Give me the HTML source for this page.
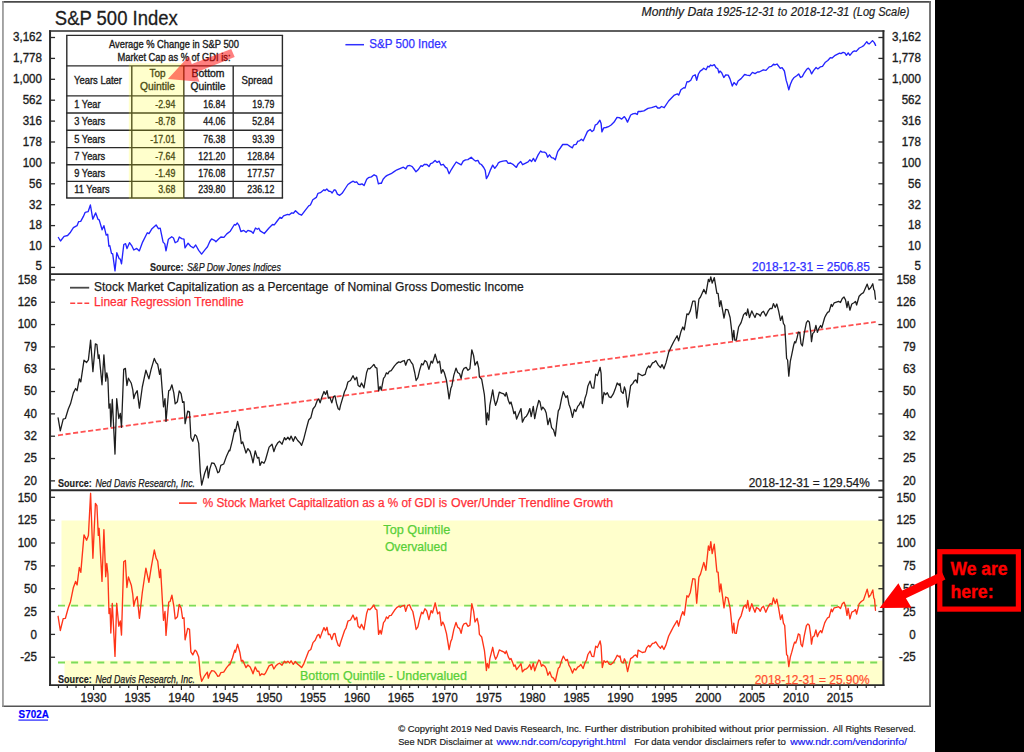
<!DOCTYPE html>
<html><head><meta charset="utf-8"><title>S&amp;P 500 Index</title>
<style>
html,body{margin:0;padding:0;background:#000;}
body{width:1024px;height:752px;overflow:hidden;font-family:"Liberation Sans", sans-serif;}
svg{display:block;}
text{white-space:pre;}
</style></head><body>
<svg width="1024" height="752" viewBox="0 0 1024 752" font-family='"Liberation Sans", sans-serif'><rect x="0" y="0" width="1024" height="752" fill="#000" stroke="none" stroke-width="0"/>
<rect x="0" y="0" width="935" height="752" fill="#fff" stroke="none" stroke-width="0"/>
<line x1="2.1" y1="1.85" x2="930.9" y2="1.85" stroke="#4a4a4a" stroke-width="1.7"/>
<line x1="2.1" y1="706.3" x2="930.9" y2="706.3" stroke="#555" stroke-width="1.6"/>
<line x1="2.95" y1="1.0" x2="2.95" y2="707.1" stroke="#909090" stroke-width="1.6"/>
<line x1="930.0" y1="1.0" x2="930.0" y2="707.1" stroke="#666" stroke-width="1.8"/>
<rect x="61.5" y="520.5" width="821.9" height="86.0" fill="#ffffcc" stroke="none" stroke-width="0"/>
<rect x="64.5" y="660.6" width="818.9" height="24.5" fill="#ffffcc" stroke="none" stroke-width="0"/>
<line x1="58" y1="605.6" x2="882.4" y2="605.6" stroke="#7cdc58" stroke-width="1.9" stroke-dasharray="7 6.1"/>
<line x1="58" y1="662.5" x2="882.4" y2="662.5" stroke="#7cdc58" stroke-width="1.9" stroke-dasharray="7 6.1"/>
<path d="M58.4,237.5 L60.5,241.0 L64.1,236.3 L67.6,235.5 L70.5,232.2 L73.4,227.7 L77.0,225.7 L78.7,221.6 L80.7,221.4 L83.4,216.4 L85.2,212.3 L88.1,211.7 L90.4,205.0 L92.8,219.1 L95.7,212.9 L98.0,219.3 L99.2,219.9 L102.1,229.8 L103.9,225.7 L106.2,235.1 L107.7,234.3 L108.9,246.2 L109.8,245.7 L111.5,253.3 L112.7,253.9 L115.0,270.9 L116.8,252.7 L119.1,258.6 L120.3,259.1 L121.5,263.8 L123.8,244.5 L125.6,243.7 L127.0,248.6 L129.5,242.7 L132.0,246.2 L133.8,250.0 L136.7,248.4 L139.3,250.9 L142.6,242.1 L147.3,232.8 L149.0,233.6 L152.0,228.7 L156.1,224.9 L158.4,228.7 L160.2,228.1 L163.1,242.1 L164.8,243.9 L166.0,250.9 L168.4,239.2 L171.7,236.8 L173.5,238.0 L175.2,242.7 L177.6,241.5 L179.3,237.0 L181.7,238.6 L184.0,239.1 L185.0,247.9 L188.1,243.2 L190.7,246.2 L193.4,247.9 L195.7,245.0 L198.7,250.3 L201.6,254.1 L205.1,249.7 L207.5,246.8 L209.8,241.5 L211.6,238.9 L214.5,240.3 L215.9,241.7 L218.6,239.1 L220.9,237.0 L223.9,237.4 L226.8,233.9 L230.3,231.2 L234.4,224.5 L235.6,225.1 L237.3,223.0 L239.1,225.7 L240.9,231.5 L243.8,230.4 L246.1,232.3 L247.9,230.4 L251.4,231.5 L253.2,233.3 L255.5,228.0 L257.3,229.2 L258.8,228.2 L260.2,230.9 L264.3,233.5 L269.0,228.0 L272.5,224.5 L274.3,224.8 L277.2,221.0 L280.0,217.3 L281.7,218.3 L283.5,215.9 L287.6,214.4 L289.3,214.8 L291.7,212.9 L293.4,213.2 L295.5,210.7 L298.7,213.8 L301.6,215.2 L305.2,210.3 L308.7,205.9 L310.4,205.0 L312.8,199.8 L316.3,197.4 L318.0,193.3 L320.4,192.7 L323.9,189.8 L325.1,190.6 L326.8,189.0 L328.6,191.0 L330.9,191.6 L332.1,193.0 L334.2,189.8 L335.6,190.2 L337.4,194.1 L339.7,195.3 L342.1,193.3 L345.6,188.0 L347.9,184.5 L350.9,182.4 L353.2,181.2 L355.0,182.4 L356.7,181.8 L358.5,184.3 L360.2,184.5 L362.0,183.9 L364.1,185.5 L366.7,179.3 L368.4,177.7 L371.4,176.9 L374.1,174.8 L376.6,176.1 L378.4,183.9 L380.2,183.1 L381.3,183.4 L383.1,179.3 L385.4,176.6 L387.2,175.4 L391.1,173.7 L394.1,171.6 L397.0,169.8 L400.5,168.3 L403.4,167.2 L405.8,168.9 L407.5,165.9 L409.9,165.5 L412.2,166.6 L414.0,169.0 L416.0,171.8 L418.1,169.8 L421.0,165.7 L422.4,166.3 L424.5,164.3 L426.9,164.5 L429.0,166.6 L430.6,163.6 L432.7,162.8 L435.1,160.4 L437.2,162.4 L439.2,161.2 L440.9,165.1 L443.3,164.3 L445.6,167.5 L446.8,167.8 L449.1,173.7 L451.2,169.8 L453.2,166.6 L456.2,162.0 L458.5,163.4 L461.2,164.8 L463.2,161.2 L465.5,159.8 L467.9,159.6 L471.2,157.3 L473.8,159.8 L475.5,161.0 L477.9,160.4 L479.6,163.6 L481.4,164.5 L483.7,167.5 L485.2,170.4 L486.4,178.6 L488.4,175.1 L490.2,170.4 L492.7,165.1 L494.8,168.3 L497.2,165.1 L498.4,162.8 L500.0,161.9 L502.9,161.2 L506.4,160.7 L508.2,163.3 L510.5,163.0 L513.4,164.7 L516.4,167.4 L518.1,163.9 L520.7,161.5 L522.6,164.7 L525.2,163.3 L528.1,161.9 L529.8,159.8 L531.6,161.5 L533.4,158.4 L535.1,161.5 L538.0,155.1 L540.6,151.0 L542.1,152.1 L544.5,152.1 L546.2,153.3 L547.7,157.2 L549.5,154.8 L551.5,157.7 L553.3,158.0 L555.3,159.8 L557.7,151.6 L560.3,148.0 L562.7,144.5 L565.0,144.3 L567.3,144.5 L570.3,146.6 L572.4,147.8 L573.8,144.8 L576.1,144.3 L577.9,141.2 L579.6,140.8 L581.4,139.3 L583.2,140.8 L585.5,135.7 L587.5,131.4 L590.2,129.5 L592.0,131.6 L593.7,130.2 L595.2,125.2 L597.2,124.0 L599.9,120.2 L601.1,123.4 L601.9,131.9 L603.7,127.9 L606.0,127.5 L608.4,126.7 L611.1,125.0 L614.1,122.1 L617.0,117.4 L619.3,117.7 L621.7,119.1 L624.4,116.6 L625.8,118.6 L627.5,122.1 L630.7,115.0 L632.8,113.9 L635.2,113.3 L637.3,114.5 L638.1,111.5 L640.4,111.5 L643.9,110.9 L648.0,108.4 L651.6,107.7 L656.2,106.2 L657.7,108.0 L659.8,108.0 L661.5,106.5 L664.2,107.7 L668.6,101.0 L671.5,98.0 L674.4,95.1 L677.3,93.9 L678.8,95.1 L680.9,89.8 L683.8,87.7 L685.0,88.1 L687.0,81.6 L688.5,81.9 L690.8,80.2 L692.8,76.0 L695.2,74.8 L696.7,80.2 L698.4,74.0 L700.2,71.1 L702.0,69.9 L703.7,68.2 L706.1,69.7 L707.8,66.2 L709.0,67.0 L710.7,65.0 L711.9,65.8 L714.3,64.6 L716.0,67.6 L717.8,68.8 L718.9,72.9 L720.0,71.0 L721.7,72.8 L723.8,77.5 L725.8,74.8 L728.2,75.1 L729.9,78.6 L732.3,86.0 L734.0,82.5 L736.4,85.1 L738.1,81.0 L741.1,78.6 L744.6,74.5 L746.9,75.1 L749.8,75.7 L752.4,72.4 L755.1,73.6 L757.5,72.0 L759.2,72.0 L763.3,69.8 L766.0,70.4 L769.2,66.9 L771.5,66.3 L773.5,64.2 L775.0,64.9 L777.0,64.0 L780.3,68.4 L782.1,67.7 L784.4,71.0 L786.2,80.4 L787.3,83.9 L788.8,89.8 L790.3,84.5 L792.0,80.4 L793.8,77.8 L796.7,75.7 L798.7,73.9 L800.5,77.5 L802.3,76.6 L804.3,72.8 L806.7,69.3 L808.4,68.1 L810.2,70.4 L811.6,73.9 L813.7,70.4 L816.1,67.5 L817.8,68.9 L820.2,66.9 L822.5,66.3 L825.4,62.2 L827.8,60.5 L830.3,57.7 L832.1,58.0 L835.2,55.3 L839.6,53.1 L840.9,53.6 L843.1,52.4 L844.8,52.9 L846.4,55.3 L848.2,52.9 L849.9,55.3 L852.7,51.8 L854.5,50.9 L856.2,51.4 L859.3,48.0 L861.5,47.0 L863.7,45.7 L866.8,41.7 L868.1,43.5 L869.4,43.9 L872.5,40.6 L874.3,42.6 L875.6,45.4" fill="none" stroke="#2424ff" stroke-width="1.35" stroke-linejoin="round" stroke-linecap="round"/>
<line x1="58" y1="435.3" x2="875.7" y2="321.9" stroke="#ff5252" stroke-width="1.8" stroke-dasharray="5.1 2.5"/>
<path d="M58.1,417.8 L60.3,430.9 L63.2,419.2 L65.4,418.5 L68.3,409.0 L70.5,403.8 L73.4,392.9 L75.6,388.5 L77.1,390.7 L79.3,378.9 L80.8,381.9 L84.0,360.2 L86.6,362.5 L88.4,359.9 L90.6,340.1 L92.9,371.6 L95.4,343.8 L96.9,344.5 L98.3,358.4 L99.1,354.8 L102.0,384.8 L103.9,354.8 L105.7,381.1 L106.8,372.8 L107.9,378.9 L109.0,408.2 L110.1,403.8 L110.8,426.6 L112.3,399.5 L115.0,454.1 L116.7,398.7 L118.8,418.5 L120.3,413.4 L121.5,427.3 L123.7,369.4 L125.4,368.4 L126.9,385.5 L128.4,378.2 L131.3,383.3 L132.8,389.9 L133.8,398.7 L135.0,394.3 L137.2,390.7 L139.4,408.2 L142.3,387.0 L145.9,370.2 L148.9,378.9 L151.1,369.4 L154.3,358.4 L156.2,362.8 L157.7,364.3 L159.6,374.3 L160.6,369.0 L163.5,406.8 L165.0,398.7 L166.0,421.4 L168.7,390.7 L170.1,389.9 L171.9,384.8 L173.8,392.9 L175.2,403.8 L177.4,401.7 L179.2,391.0 L181.1,393.6 L182.6,402.4 L184.0,401.7 L185.1,423.6 L187.7,411.2 L189.5,411.9 L190.9,437.5 L192.8,441.2 L195.0,434.6 L196.5,436.1 L198.7,443.4 L200.3,472.0 L201.7,485.2 L204.6,473.5 L207.3,466.2 L208.3,477.9 L209.8,469.1 L211.7,462.9 L214.2,463.5 L216.1,467.6 L217.8,472.8 L219.3,471.7 L220.8,465.4 L223.7,464.0 L226.6,455.9 L229.3,450.1 L229.8,450.8 L232.5,439.8 L234.7,429.3 L235.4,431.7 L237.6,421.5 L239.8,431.0 L241.3,443.5 L242.7,442.0 L244.5,447.9 L246.0,453.0 L247.9,448.6 L250.1,451.5 L251.8,457.4 L253.0,462.9 L255.2,450.8 L257.4,458.1 L258.8,457.4 L260.0,465.4 L261.8,461.8 L264.0,463.2 L265.4,460.3 L269.1,447.1 L272.0,444.2 L273.9,451.5 L275.7,446.4 L277.9,442.7 L279.6,441.3 L282.0,444.2 L284.5,437.6 L285.9,439.8 L287.9,437.2 L289.6,439.8 L291.1,436.1 L293.3,441.3 L295.2,436.6 L297.7,440.5 L299.9,442.7 L301.6,445.4 L303.5,439.8 L306.5,428.1 L308.7,420.0 L310.8,417.8 L313.0,409.0 L315.2,406.1 L317.4,400.3 L318.9,399.1 L320.1,402.9 L321.8,397.3 L324.0,391.5 L325.5,394.4 L327.0,390.7 L328.4,398.1 L329.9,397.3 L331.8,402.9 L333.6,396.6 L335.0,395.9 L336.5,403.2 L338.2,408.8 L339.5,409.8 L340.5,405.4 L344.6,391.5 L346.1,388.6 L347.9,382.0 L350.5,380.5 L353.0,375.7 L354.9,379.8 L356.7,377.2 L358.1,385.4 L360.0,386.8 L361.5,383.0 L364.0,387.9 L366.6,372.5 L368.1,368.4 L369.8,368.8 L371.7,366.9 L373.9,364.4 L375.4,367.4 L376.9,368.1 L378.6,390.8 L380.1,386.4 L381.3,390.1 L383.5,378.3 L384.9,376.6 L386.4,372.8 L387.9,373.9 L389.3,371.3 L391.2,370.7 L394.5,365.9 L396.7,363.4 L398.8,361.9 L400.3,362.5 L402.5,361.1 L404.3,360.5 L405.7,365.2 L407.6,360.0 L409.5,359.3 L411.3,362.5 L412.8,364.4 L414.7,372.5 L416.1,380.5 L417.9,377.6 L419.6,370.3 L421.6,363.7 L423.0,364.9 L424.9,360.5 L426.7,361.9 L428.9,369.3 L431.1,361.1 L432.5,363.0 L435.2,354.2 L436.2,357.8 L437.7,363.0 L439.6,361.1 L441.3,373.2 L442.8,369.6 L444.3,372.5 L446.5,380.5 L447.6,387.9 L449.1,398.8 L450.8,388.6 L451.9,385.7 L453.8,375.4 L456.0,368.1 L457.7,372.5 L459.6,373.7 L461.1,378.3 L462.6,371.0 L464.0,368.4 L466.2,367.4 L468.0,370.3 L469.9,368.8 L471.8,349.8 L473.6,355.6 L475.0,365.2 L477.2,361.5 L478.7,368.1 L479.4,376.9 L481.7,379.3 L484.4,394.7 L485.4,407.1 L486.4,424.7 L487.3,413.0 L488.8,420.0 L489.8,405.7 L492.7,389.8 L494.2,399.8 L495.6,405.4 L497.1,401.3 L499.3,392.2 L501.5,393.2 L503.7,393.9 L505.2,396.1 L506.3,392.5 L508.4,400.5 L509.8,403.9 L511.0,402.0 L512.8,408.6 L513.9,413.7 L515.1,411.5 L516.6,419.1 L519.1,413.0 L521.0,408.6 L522.4,422.1 L524.5,417.7 L526.4,416.2 L527.9,413.7 L529.8,408.6 L531.2,416.7 L533.3,406.4 L534.7,418.6 L536.7,408.6 L538.8,400.5 L540.0,402.0 L541.5,409.8 L542.8,407.1 L544.7,409.3 L546.2,413.0 L547.9,424.7 L549.8,418.1 L551.6,427.6 L553.5,429.8 L555.3,436.1 L556.7,423.2 L558.3,410.8 L559.6,408.6 L561.6,398.3 L563.3,391.7 L564.9,395.4 L565.9,397.6 L567.4,395.7 L568.9,404.2 L570.3,407.9 L572.5,417.4 L574.3,409.3 L575.8,411.5 L577.7,406.4 L579.1,404.9 L580.9,401.6 L583.1,407.9 L585.0,398.3 L586.5,393.9 L587.9,385.9 L590.1,381.1 L591.9,387.8 L593.8,388.1 L595.7,374.2 L597.4,375.6 L600.1,367.3 L601.1,373.4 L602.3,403.5 L604.0,392.5 L605.5,394.7 L607.3,392.8 L609.2,396.9 L610.9,397.6 L613.3,393.9 L615.0,389.6 L617.2,383.0 L619.4,385.2 L620.0,383.4 L621.2,391.6 L623.2,393.4 L624.4,387.0 L625.6,390.5 L627.6,407.0 L630.6,385.8 L632.9,383.4 L634.1,381.1 L635.8,379.9 L637.3,382.9 L638.1,373.2 L642.3,375.7 L645.2,374.4 L646.7,368.8 L648.7,365.9 L649.9,367.6 L652.5,362.9 L654.0,362.3 L655.8,360.7 L658.3,365.1 L660.5,367.6 L662.0,364.6 L663.9,368.8 L666.0,362.9 L668.6,352.6 L671.2,346.8 L673.7,341.7 L677.1,335.8 L678.6,340.9 L681.0,331.4 L682.8,327.0 L684.3,329.9 L686.9,313.8 L688.4,314.6 L690.3,310.9 L692.8,301.1 L695.0,301.1 L696.7,318.2 L698.9,299.2 L700.5,297.0 L703.8,289.4 L705.9,293.8 L708.4,279.4 L709.6,281.6 L710.8,276.8 L712.2,283.1 L714.3,277.6 L716.9,293.3 L718.1,293.3 L719.6,306.5 L720.9,300.6 L724.0,318.2 L725.7,309.4 L727.9,309.9 L730.1,317.5 L731.6,329.9 L732.6,340.2 L733.8,330.4 L734.8,340.2 L736.3,340.2 L738.6,327.0 L741.1,322.6 L743.6,314.6 L745.5,312.8 L746.5,315.3 L747.7,309.0 L749.5,317.5 L751.8,310.9 L753.3,314.3 L755.0,317.5 L756.5,313.4 L758.7,314.3 L760.3,316.0 L761.7,312.8 L763.5,311.3 L765.8,316.0 L768.3,310.9 L770.2,308.4 L772.0,308.7 L773.4,303.6 L775.2,307.5 L776.8,304.0 L778.6,310.9 L780.5,320.4 L782.2,316.0 L783.4,323.3 L784.7,325.5 L785.9,345.3 L786.6,358.5 L787.6,360.0 L788.8,376.1 L790.3,361.4 L791.7,354.8 L793.7,345.0 L794.7,341.7 L795.7,342.7 L797.2,337.3 L798.3,332.1 L799.8,332.9 L801.0,343.6 L802.4,346.0 L804.2,333.6 L806.4,322.6 L807.9,320.7 L809.3,321.9 L810.8,332.9 L811.5,341.7 L812.7,333.6 L814.2,332.1 L815.9,325.5 L817.4,332.4 L818.8,328.5 L820.6,325.5 L821.8,327.7 L824.7,317.5 L826.2,314.6 L827.6,312.4 L829.1,311.6 L831.3,304.3 L832.3,306.5 L834.2,302.8 L836.4,302.1 L838.6,301.4 L840.5,302.5 L842.3,298.4 L844.0,297.0 L845.5,299.9 L847.0,307.5 L848.1,301.4 L849.9,310.2 L851.8,304.0 L854.0,302.8 L855.5,301.4 L856.6,305.0 L859.1,296.2 L861.3,294.0 L863.5,292.6 L865.7,287.5 L867.2,284.1 L868.9,289.6 L870.8,287.5 L872.8,283.8 L873.8,289.6 L874.5,290.4 L875.5,299.2" fill="none" stroke="#1e1e1e" stroke-width="1.3" stroke-linejoin="round" stroke-linecap="round"/>
<path d="M58.1,616.3 L60.3,630.5 L63.2,618.7 L65.4,618.3 L68.3,607.7 L70.5,601.7 L73.4,587.4 L75.6,581.4 L77.1,585.0 L79.3,567.4 L80.8,572.4 L84.0,534.9 L86.6,540.2 L88.4,535.6 L90.6,493.3 L92.9,558.3 L95.4,503.5 L96.9,505.6 L98.3,535.4 L99.1,528.3 L102.0,581.4 L103.9,529.6 L105.7,576.7 L106.8,563.5 L107.9,573.7 L109.0,613.5 L110.1,608.5 L110.8,633.0 L112.3,603.4 L115.0,656.4 L116.7,603.3 L118.8,626.2 L120.3,621.0 L121.5,635.1 L123.7,561.8 L125.4,560.5 L126.9,587.5 L128.4,577.0 L131.3,585.2 L132.8,594.7 L133.8,606.3 L135.0,600.9 L137.2,596.5 L139.4,618.3 L142.3,592.5 L145.9,568.1 L148.9,582.4 L151.1,568.1 L154.3,550.0 L156.2,558.3 L157.7,561.1 L159.6,577.6 L160.6,569.5 L163.5,620.3 L165.0,611.5 L166.0,635.4 L168.7,602.2 L170.1,601.5 L171.9,595.1 L173.8,605.9 L175.2,618.9 L177.4,616.8 L179.2,604.4 L181.1,608.0 L182.6,618.4 L184.0,617.8 L185.1,639.8 L187.7,628.4 L189.5,629.4 L190.9,651.9 L192.8,654.9 L195.0,650.1 L196.5,651.4 L198.7,657.0 L200.3,674.7 L201.7,681.3 L204.6,675.8 L207.3,672.1 L208.3,678.2 L209.8,673.8 L211.7,670.6 L214.2,671.1 L216.1,673.5 L217.8,676.3 L219.3,675.9 L220.8,672.7 L223.7,672.1 L226.6,667.7 L229.3,664.3 L229.8,664.8 L232.5,657.8 L234.7,650.2 L235.4,652.2 L237.6,644.3 L239.8,652.1 L241.3,661.1 L242.7,660.3 L244.5,664.3 L246.0,667.6 L247.9,665.0 L250.1,667.0 L251.8,670.6 L253.0,673.8 L255.2,667.0 L257.4,671.4 L258.8,671.1 L260.0,675.6 L261.8,673.8 L264.0,674.7 L265.4,673.3 L269.1,665.9 L272.0,664.4 L273.9,669.0 L275.7,666.1 L277.9,664.0 L279.6,663.2 L282.0,665.2 L284.5,661.2 L285.9,662.8 L287.9,661.2 L289.6,663.1 L291.1,660.8 L293.3,664.4 L295.2,661.5 L297.7,664.3 L299.9,665.9 L301.6,667.6 L303.5,664.4 L306.5,656.8 L308.7,651.0 L310.8,649.5 L313.0,642.6 L315.2,640.3 L317.4,635.3 L318.9,634.4 L320.1,638.0 L321.8,633.1 L324.0,627.6 L325.5,630.7 L327.0,627.3 L328.4,634.6 L329.9,634.1 L331.8,639.5 L333.6,633.9 L335.0,633.4 L336.5,640.3 L338.2,645.3 L339.5,646.3 L340.5,642.8 L344.6,630.5 L346.1,627.8 L347.9,621.2 L350.5,620.0 L353.0,615.0 L354.9,619.9 L356.7,617.2 L358.1,626.2 L360.0,628.0 L361.5,624.3 L364.0,629.6 L366.6,613.5 L368.1,608.9 L369.8,609.7 L371.7,607.7 L373.9,605.0 L375.4,608.9 L376.9,610.0 L378.6,634.4 L380.1,630.3 L381.3,634.0 L383.5,622.6 L384.9,620.9 L386.4,616.9 L387.9,618.5 L389.3,615.7 L391.2,615.4 L394.5,610.3 L396.7,607.6 L398.8,606.2 L400.3,607.2 L402.5,605.8 L404.3,605.3 L405.7,611.3 L407.6,605.4 L409.5,604.8 L411.3,609.0 L412.8,611.5 L414.7,620.9 L416.1,629.5 L417.9,626.8 L419.6,619.3 L421.6,612.1 L423.0,613.7 L424.9,608.8 L426.7,610.9 L428.9,619.6 L431.1,610.6 L432.5,613.0 L435.2,602.8 L436.2,607.5 L437.7,613.9 L439.6,611.9 L441.3,625.6 L442.8,622.0 L444.3,625.3 L446.5,633.6 L447.6,640.4 L449.1,649.7 L450.8,641.4 L451.9,639.0 L453.8,629.6 L456.0,622.4 L457.7,627.2 L459.6,628.6 L461.1,633.4 L462.6,626.4 L464.0,623.8 L466.2,623.1 L468.0,626.4 L469.9,625.2 L471.8,603.7 L473.6,611.1 L475.0,622.0 L477.2,618.4 L478.7,625.7 L479.4,634.4 L481.7,637.0 L484.4,650.3 L485.4,659.4 L486.4,670.5 L487.3,663.5 L488.8,668.0 L489.8,658.9 L492.7,647.3 L494.2,655.1 L495.6,659.2 L497.1,656.5 L499.3,649.9 L501.5,651.0 L503.7,651.8 L505.2,653.6 L506.3,650.9 L508.4,657.1 L509.8,659.6 L511.0,658.4 L512.8,662.9 L513.9,666.3 L515.1,665.0 L516.6,669.7 L519.1,666.3 L521.0,663.7 L522.4,671.8 L524.5,669.5 L526.4,668.8 L527.9,667.5 L529.8,664.5 L531.2,669.5 L533.3,663.4 L534.7,670.8 L536.7,665.1 L538.8,660.0 L540.0,661.1 L541.5,666.2 L542.8,664.7 L544.7,666.2 L546.2,668.5 L547.9,675.2 L549.8,671.8 L551.6,676.9 L553.5,678.1 L555.3,681.3 L556.7,675.0 L558.3,668.2 L559.6,667.0 L561.6,660.6 L563.3,656.2 L564.9,659.0 L565.9,660.6 L567.4,659.4 L568.9,665.1 L570.3,667.5 L572.5,673.1 L574.3,668.7 L575.8,670.1 L577.7,667.2 L579.1,666.4 L580.9,664.5 L583.1,668.5 L585.0,662.8 L586.5,660.0 L587.9,654.5 L590.1,651.1 L591.9,656.3 L593.8,656.6 L595.7,646.2 L597.4,647.6 L600.1,640.9 L601.1,646.2 L602.3,667.5 L604.0,660.7 L605.5,662.3 L607.3,661.2 L609.2,664.0 L610.9,664.6 L613.3,662.5 L615.0,659.7 L617.2,655.3 L619.4,657.1 L620.0,655.9 L621.2,661.7 L623.2,663.0 L624.4,658.8 L625.6,661.3 L627.6,671.6 L630.6,658.6 L632.9,657.2 L634.1,655.6 L635.8,655.0 L637.3,657.2 L638.1,650.1 L642.3,652.5 L645.2,651.8 L646.7,647.6 L648.7,645.4 L649.9,647.0 L652.5,643.4 L654.0,643.1 L655.8,641.9 L658.3,645.9 L660.5,648.2 L662.0,645.9 L663.9,649.5 L666.0,644.9 L668.6,636.3 L671.2,631.1 L673.7,626.3 L677.1,620.6 L678.6,626.2 L681.0,616.4 L682.8,611.6 L684.3,615.2 L686.9,595.7 L688.4,597.0 L690.3,592.4 L692.8,578.7 L695.0,579.2 L696.7,603.2 L698.9,577.1 L700.5,574.1 L703.8,562.4 L705.9,570.2 L708.4,546.0 L709.6,550.3 L710.8,541.7 L712.2,553.6 L714.3,544.2 L716.9,571.9 L718.1,572.1 L719.6,591.9 L720.9,583.9 L724.0,607.9 L725.7,597.0 L727.9,598.0 L730.1,608.0 L731.6,622.4 L732.6,632.9 L733.8,623.2 L734.8,633.2 L736.3,633.4 L738.6,620.3 L741.1,615.8 L743.6,606.7 L745.5,604.9 L746.5,608.1 L747.7,600.5 L749.5,611.2 L751.8,603.6 L753.3,608.0 L755.0,612.2 L756.5,607.5 L758.7,608.9 L760.3,611.3 L761.7,607.7 L763.5,606.2 L765.8,612.2 L768.3,606.5 L770.2,603.7 L772.0,604.4 L773.4,598.0 L775.2,603.5 L776.8,599.2 L778.6,608.2 L780.5,619.5 L782.2,614.8 L783.4,623.1 L784.7,625.5 L785.9,644.2 L786.6,654.6 L787.6,655.8 L788.8,666.6 L790.3,657.1 L791.7,652.4 L793.7,644.8 L794.7,642.1 L795.7,643.1 L797.2,638.5 L798.3,633.9 L799.8,634.8 L801.0,644.4 L802.4,646.7 L804.2,636.1 L806.4,625.6 L807.9,623.9 L809.3,625.3 L810.8,636.2 L811.5,644.1 L812.7,637.1 L814.2,636.0 L815.9,629.9 L817.4,636.7 L818.8,633.2 L820.6,630.6 L821.8,632.8 L824.7,622.9 L826.2,620.0 L827.6,617.8 L829.1,617.2 L831.3,609.1 L832.3,611.8 L834.2,607.8 L836.4,607.3 L838.6,606.7 L840.5,608.5 L842.3,603.7 L844.0,602.2 L845.5,606.1 L847.0,615.4 L848.1,608.3 L849.9,618.8 L851.8,612.1 L854.0,611.1 L855.5,609.6 L856.6,614.1 L859.1,603.9 L861.3,601.5 L863.5,600.0 L865.7,593.6 L867.2,589.2 L868.9,597.2 L870.8,594.6 L872.8,589.9 L873.8,598.0 L874.5,599.1 L875.5,610.3" fill="none" stroke="#ff3418" stroke-width="1.35" stroke-linejoin="round" stroke-linecap="round"/>
<line x1="50.05" y1="30.15" x2="50.05" y2="685.9" stroke="#2a2a2a" stroke-width="2"/>
<line x1="883.4" y1="30.15" x2="883.4" y2="685.9" stroke="#2a2a2a" stroke-width="2"/>
<line x1="49.05" y1="30.95" x2="884.4" y2="30.95" stroke="#2a2a2a" stroke-width="1.6"/>
<line x1="49.05" y1="685.1" x2="884.4" y2="685.1" stroke="#2a2a2a" stroke-width="1.8"/>
<line x1="50.05" y1="274.05" x2="883.4" y2="274.05" stroke="#2a2a2a" stroke-width="1.8"/>
<line x1="50.05" y1="490.2" x2="883.4" y2="490.2" stroke="#2a2a2a" stroke-width="1.9"/>
<line x1="50.05" y1="37.5" x2="55.05" y2="37.5" stroke="#2a2a2a" stroke-width="1.3"/>
<line x1="878.4" y1="37.5" x2="883.4" y2="37.5" stroke="#2a2a2a" stroke-width="1.3"/>
<text x="42.0" y="41.3" font-size="12.4" text-anchor="end" font-weight="normal" font-style="normal" fill="#1c1c1c" stroke="#1c1c1c" stroke-width="0.35" textLength="29.01" lengthAdjust="spacingAndGlyphs">3,162</text>
<text x="921.0" y="41.3" font-size="12.4" text-anchor="end" font-weight="normal" font-style="normal" fill="#1c1c1c" stroke="#1c1c1c" stroke-width="0.35" textLength="29.01" lengthAdjust="spacingAndGlyphs">3,162</text>
<line x1="50.05" y1="58.4" x2="55.05" y2="58.4" stroke="#2a2a2a" stroke-width="1.3"/>
<line x1="878.4" y1="58.4" x2="883.4" y2="58.4" stroke="#2a2a2a" stroke-width="1.3"/>
<text x="42.0" y="62.199999999999996" font-size="12.4" text-anchor="end" font-weight="normal" font-style="normal" fill="#1c1c1c" stroke="#1c1c1c" stroke-width="0.35" textLength="29.01" lengthAdjust="spacingAndGlyphs">1,778</text>
<text x="921.0" y="62.199999999999996" font-size="12.4" text-anchor="end" font-weight="normal" font-style="normal" fill="#1c1c1c" stroke="#1c1c1c" stroke-width="0.35" textLength="29.01" lengthAdjust="spacingAndGlyphs">1,778</text>
<line x1="50.05" y1="79.3" x2="55.05" y2="79.3" stroke="#2a2a2a" stroke-width="1.3"/>
<line x1="878.4" y1="79.3" x2="883.4" y2="79.3" stroke="#2a2a2a" stroke-width="1.3"/>
<text x="42.0" y="83.1" font-size="12.4" text-anchor="end" font-weight="normal" font-style="normal" fill="#1c1c1c" stroke="#1c1c1c" stroke-width="0.35" textLength="29.01" lengthAdjust="spacingAndGlyphs">1,000</text>
<text x="921.0" y="83.1" font-size="12.4" text-anchor="end" font-weight="normal" font-style="normal" fill="#1c1c1c" stroke="#1c1c1c" stroke-width="0.35" textLength="29.01" lengthAdjust="spacingAndGlyphs">1,000</text>
<line x1="50.05" y1="100.19999999999999" x2="55.05" y2="100.19999999999999" stroke="#2a2a2a" stroke-width="1.3"/>
<line x1="878.4" y1="100.19999999999999" x2="883.4" y2="100.19999999999999" stroke="#2a2a2a" stroke-width="1.3"/>
<text x="42.0" y="103.99999999999999" font-size="12.4" text-anchor="end" font-weight="normal" font-style="normal" fill="#1c1c1c" stroke="#1c1c1c" stroke-width="0.35" textLength="19.34" lengthAdjust="spacingAndGlyphs">562</text>
<text x="921.0" y="103.99999999999999" font-size="12.4" text-anchor="end" font-weight="normal" font-style="normal" fill="#1c1c1c" stroke="#1c1c1c" stroke-width="0.35" textLength="19.34" lengthAdjust="spacingAndGlyphs">562</text>
<line x1="50.05" y1="121.1" x2="55.05" y2="121.1" stroke="#2a2a2a" stroke-width="1.3"/>
<line x1="878.4" y1="121.1" x2="883.4" y2="121.1" stroke="#2a2a2a" stroke-width="1.3"/>
<text x="42.0" y="124.89999999999999" font-size="12.4" text-anchor="end" font-weight="normal" font-style="normal" fill="#1c1c1c" stroke="#1c1c1c" stroke-width="0.35" textLength="19.34" lengthAdjust="spacingAndGlyphs">316</text>
<text x="921.0" y="124.89999999999999" font-size="12.4" text-anchor="end" font-weight="normal" font-style="normal" fill="#1c1c1c" stroke="#1c1c1c" stroke-width="0.35" textLength="19.34" lengthAdjust="spacingAndGlyphs">316</text>
<line x1="50.05" y1="142.0" x2="55.05" y2="142.0" stroke="#2a2a2a" stroke-width="1.3"/>
<line x1="878.4" y1="142.0" x2="883.4" y2="142.0" stroke="#2a2a2a" stroke-width="1.3"/>
<text x="42.0" y="145.8" font-size="12.4" text-anchor="end" font-weight="normal" font-style="normal" fill="#1c1c1c" stroke="#1c1c1c" stroke-width="0.35" textLength="19.34" lengthAdjust="spacingAndGlyphs">178</text>
<text x="921.0" y="145.8" font-size="12.4" text-anchor="end" font-weight="normal" font-style="normal" fill="#1c1c1c" stroke="#1c1c1c" stroke-width="0.35" textLength="19.34" lengthAdjust="spacingAndGlyphs">178</text>
<line x1="50.05" y1="162.89999999999998" x2="55.05" y2="162.89999999999998" stroke="#2a2a2a" stroke-width="1.3"/>
<line x1="878.4" y1="162.89999999999998" x2="883.4" y2="162.89999999999998" stroke="#2a2a2a" stroke-width="1.3"/>
<text x="42.0" y="166.7" font-size="12.4" text-anchor="end" font-weight="normal" font-style="normal" fill="#1c1c1c" stroke="#1c1c1c" stroke-width="0.35" textLength="19.34" lengthAdjust="spacingAndGlyphs">100</text>
<text x="921.0" y="166.7" font-size="12.4" text-anchor="end" font-weight="normal" font-style="normal" fill="#1c1c1c" stroke="#1c1c1c" stroke-width="0.35" textLength="19.34" lengthAdjust="spacingAndGlyphs">100</text>
<line x1="50.05" y1="183.79999999999998" x2="55.05" y2="183.79999999999998" stroke="#2a2a2a" stroke-width="1.3"/>
<line x1="878.4" y1="183.79999999999998" x2="883.4" y2="183.79999999999998" stroke="#2a2a2a" stroke-width="1.3"/>
<text x="42.0" y="187.6" font-size="12.4" text-anchor="end" font-weight="normal" font-style="normal" fill="#1c1c1c" stroke="#1c1c1c" stroke-width="0.35" textLength="12.9" lengthAdjust="spacingAndGlyphs">56</text>
<text x="921.0" y="187.6" font-size="12.4" text-anchor="end" font-weight="normal" font-style="normal" fill="#1c1c1c" stroke="#1c1c1c" stroke-width="0.35" textLength="12.9" lengthAdjust="spacingAndGlyphs">56</text>
<line x1="50.05" y1="204.7" x2="55.05" y2="204.7" stroke="#2a2a2a" stroke-width="1.3"/>
<line x1="878.4" y1="204.7" x2="883.4" y2="204.7" stroke="#2a2a2a" stroke-width="1.3"/>
<text x="42.0" y="208.5" font-size="12.4" text-anchor="end" font-weight="normal" font-style="normal" fill="#1c1c1c" stroke="#1c1c1c" stroke-width="0.35" textLength="12.9" lengthAdjust="spacingAndGlyphs">32</text>
<text x="921.0" y="208.5" font-size="12.4" text-anchor="end" font-weight="normal" font-style="normal" fill="#1c1c1c" stroke="#1c1c1c" stroke-width="0.35" textLength="12.9" lengthAdjust="spacingAndGlyphs">32</text>
<line x1="50.05" y1="225.6" x2="55.05" y2="225.6" stroke="#2a2a2a" stroke-width="1.3"/>
<line x1="878.4" y1="225.6" x2="883.4" y2="225.6" stroke="#2a2a2a" stroke-width="1.3"/>
<text x="42.0" y="229.4" font-size="12.4" text-anchor="end" font-weight="normal" font-style="normal" fill="#1c1c1c" stroke="#1c1c1c" stroke-width="0.35" textLength="12.9" lengthAdjust="spacingAndGlyphs">18</text>
<text x="921.0" y="229.4" font-size="12.4" text-anchor="end" font-weight="normal" font-style="normal" fill="#1c1c1c" stroke="#1c1c1c" stroke-width="0.35" textLength="12.9" lengthAdjust="spacingAndGlyphs">18</text>
<line x1="50.05" y1="246.5" x2="55.05" y2="246.5" stroke="#2a2a2a" stroke-width="1.3"/>
<line x1="878.4" y1="246.5" x2="883.4" y2="246.5" stroke="#2a2a2a" stroke-width="1.3"/>
<text x="42.0" y="250.3" font-size="12.4" text-anchor="end" font-weight="normal" font-style="normal" fill="#1c1c1c" stroke="#1c1c1c" stroke-width="0.35" textLength="12.9" lengthAdjust="spacingAndGlyphs">10</text>
<text x="921.0" y="250.3" font-size="12.4" text-anchor="end" font-weight="normal" font-style="normal" fill="#1c1c1c" stroke="#1c1c1c" stroke-width="0.35" textLength="12.9" lengthAdjust="spacingAndGlyphs">10</text>
<line x1="50.05" y1="267.4" x2="55.05" y2="267.4" stroke="#2a2a2a" stroke-width="1.3"/>
<line x1="878.4" y1="267.4" x2="883.4" y2="267.4" stroke="#2a2a2a" stroke-width="1.3"/>
<text x="42.0" y="270.09999999999997" font-size="12.4" text-anchor="end" font-weight="normal" font-style="normal" fill="#1c1c1c" stroke="#1c1c1c" stroke-width="0.35" textLength="6.45" lengthAdjust="spacingAndGlyphs">5</text>
<text x="921.0" y="270.09999999999997" font-size="12.4" text-anchor="end" font-weight="normal" font-style="normal" fill="#1c1c1c" stroke="#1c1c1c" stroke-width="0.35" textLength="6.45" lengthAdjust="spacingAndGlyphs">5</text>
<line x1="50.05" y1="279.9" x2="55.05" y2="279.9" stroke="#2a2a2a" stroke-width="1.3"/>
<line x1="878.4" y1="279.9" x2="883.4" y2="279.9" stroke="#2a2a2a" stroke-width="1.3"/>
<text x="37.0" y="283.7" font-size="12.4" text-anchor="end" font-weight="normal" font-style="normal" fill="#1c1c1c" stroke="#1c1c1c" stroke-width="0.35" textLength="19.34" lengthAdjust="spacingAndGlyphs">158</text>
<text x="915.8" y="283.7" font-size="12.4" text-anchor="end" font-weight="normal" font-style="normal" fill="#1c1c1c" stroke="#1c1c1c" stroke-width="0.35" textLength="19.34" lengthAdjust="spacingAndGlyphs">158</text>
<line x1="50.05" y1="302.22999999999996" x2="55.05" y2="302.22999999999996" stroke="#2a2a2a" stroke-width="1.3"/>
<line x1="878.4" y1="302.22999999999996" x2="883.4" y2="302.22999999999996" stroke="#2a2a2a" stroke-width="1.3"/>
<text x="37.0" y="306.03" font-size="12.4" text-anchor="end" font-weight="normal" font-style="normal" fill="#1c1c1c" stroke="#1c1c1c" stroke-width="0.35" textLength="19.34" lengthAdjust="spacingAndGlyphs">126</text>
<text x="915.8" y="306.03" font-size="12.4" text-anchor="end" font-weight="normal" font-style="normal" fill="#1c1c1c" stroke="#1c1c1c" stroke-width="0.35" textLength="19.34" lengthAdjust="spacingAndGlyphs">126</text>
<line x1="50.05" y1="324.55999999999995" x2="55.05" y2="324.55999999999995" stroke="#2a2a2a" stroke-width="1.3"/>
<line x1="878.4" y1="324.55999999999995" x2="883.4" y2="324.55999999999995" stroke="#2a2a2a" stroke-width="1.3"/>
<text x="37.0" y="328.35999999999996" font-size="12.4" text-anchor="end" font-weight="normal" font-style="normal" fill="#1c1c1c" stroke="#1c1c1c" stroke-width="0.35" textLength="19.34" lengthAdjust="spacingAndGlyphs">100</text>
<text x="915.8" y="328.35999999999996" font-size="12.4" text-anchor="end" font-weight="normal" font-style="normal" fill="#1c1c1c" stroke="#1c1c1c" stroke-width="0.35" textLength="19.34" lengthAdjust="spacingAndGlyphs">100</text>
<line x1="50.05" y1="346.89" x2="55.05" y2="346.89" stroke="#2a2a2a" stroke-width="1.3"/>
<line x1="878.4" y1="346.89" x2="883.4" y2="346.89" stroke="#2a2a2a" stroke-width="1.3"/>
<text x="37.0" y="350.69" font-size="12.4" text-anchor="end" font-weight="normal" font-style="normal" fill="#1c1c1c" stroke="#1c1c1c" stroke-width="0.35" textLength="12.9" lengthAdjust="spacingAndGlyphs">79</text>
<text x="915.8" y="350.69" font-size="12.4" text-anchor="end" font-weight="normal" font-style="normal" fill="#1c1c1c" stroke="#1c1c1c" stroke-width="0.35" textLength="12.9" lengthAdjust="spacingAndGlyphs">79</text>
<line x1="50.05" y1="369.21999999999997" x2="55.05" y2="369.21999999999997" stroke="#2a2a2a" stroke-width="1.3"/>
<line x1="878.4" y1="369.21999999999997" x2="883.4" y2="369.21999999999997" stroke="#2a2a2a" stroke-width="1.3"/>
<text x="37.0" y="373.02" font-size="12.4" text-anchor="end" font-weight="normal" font-style="normal" fill="#1c1c1c" stroke="#1c1c1c" stroke-width="0.35" textLength="12.9" lengthAdjust="spacingAndGlyphs">63</text>
<text x="915.8" y="373.02" font-size="12.4" text-anchor="end" font-weight="normal" font-style="normal" fill="#1c1c1c" stroke="#1c1c1c" stroke-width="0.35" textLength="12.9" lengthAdjust="spacingAndGlyphs">63</text>
<line x1="50.05" y1="391.54999999999995" x2="55.05" y2="391.54999999999995" stroke="#2a2a2a" stroke-width="1.3"/>
<line x1="878.4" y1="391.54999999999995" x2="883.4" y2="391.54999999999995" stroke="#2a2a2a" stroke-width="1.3"/>
<text x="37.0" y="395.34999999999997" font-size="12.4" text-anchor="end" font-weight="normal" font-style="normal" fill="#1c1c1c" stroke="#1c1c1c" stroke-width="0.35" textLength="12.9" lengthAdjust="spacingAndGlyphs">50</text>
<text x="915.8" y="395.34999999999997" font-size="12.4" text-anchor="end" font-weight="normal" font-style="normal" fill="#1c1c1c" stroke="#1c1c1c" stroke-width="0.35" textLength="12.9" lengthAdjust="spacingAndGlyphs">50</text>
<line x1="50.05" y1="413.88" x2="55.05" y2="413.88" stroke="#2a2a2a" stroke-width="1.3"/>
<line x1="878.4" y1="413.88" x2="883.4" y2="413.88" stroke="#2a2a2a" stroke-width="1.3"/>
<text x="37.0" y="417.68" font-size="12.4" text-anchor="end" font-weight="normal" font-style="normal" fill="#1c1c1c" stroke="#1c1c1c" stroke-width="0.35" textLength="12.9" lengthAdjust="spacingAndGlyphs">40</text>
<text x="915.8" y="417.68" font-size="12.4" text-anchor="end" font-weight="normal" font-style="normal" fill="#1c1c1c" stroke="#1c1c1c" stroke-width="0.35" textLength="12.9" lengthAdjust="spacingAndGlyphs">40</text>
<line x1="50.05" y1="436.21" x2="55.05" y2="436.21" stroke="#2a2a2a" stroke-width="1.3"/>
<line x1="878.4" y1="436.21" x2="883.4" y2="436.21" stroke="#2a2a2a" stroke-width="1.3"/>
<text x="37.0" y="440.01" font-size="12.4" text-anchor="end" font-weight="normal" font-style="normal" fill="#1c1c1c" stroke="#1c1c1c" stroke-width="0.35" textLength="12.9" lengthAdjust="spacingAndGlyphs">32</text>
<text x="915.8" y="440.01" font-size="12.4" text-anchor="end" font-weight="normal" font-style="normal" fill="#1c1c1c" stroke="#1c1c1c" stroke-width="0.35" textLength="12.9" lengthAdjust="spacingAndGlyphs">32</text>
<line x1="50.05" y1="458.53999999999996" x2="55.05" y2="458.53999999999996" stroke="#2a2a2a" stroke-width="1.3"/>
<line x1="878.4" y1="458.53999999999996" x2="883.4" y2="458.53999999999996" stroke="#2a2a2a" stroke-width="1.3"/>
<text x="37.0" y="462.34" font-size="12.4" text-anchor="end" font-weight="normal" font-style="normal" fill="#1c1c1c" stroke="#1c1c1c" stroke-width="0.35" textLength="12.9" lengthAdjust="spacingAndGlyphs">25</text>
<text x="915.8" y="462.34" font-size="12.4" text-anchor="end" font-weight="normal" font-style="normal" fill="#1c1c1c" stroke="#1c1c1c" stroke-width="0.35" textLength="12.9" lengthAdjust="spacingAndGlyphs">25</text>
<line x1="50.05" y1="480.86999999999995" x2="55.05" y2="480.86999999999995" stroke="#2a2a2a" stroke-width="1.3"/>
<line x1="878.4" y1="480.86999999999995" x2="883.4" y2="480.86999999999995" stroke="#2a2a2a" stroke-width="1.3"/>
<text x="37.0" y="484.66999999999996" font-size="12.4" text-anchor="end" font-weight="normal" font-style="normal" fill="#1c1c1c" stroke="#1c1c1c" stroke-width="0.35" textLength="12.9" lengthAdjust="spacingAndGlyphs">20</text>
<text x="915.8" y="484.66999999999996" font-size="12.4" text-anchor="end" font-weight="normal" font-style="normal" fill="#1c1c1c" stroke="#1c1c1c" stroke-width="0.35" textLength="12.9" lengthAdjust="spacingAndGlyphs">20</text>
<line x1="50.05" y1="497.3" x2="55.05" y2="497.3" stroke="#2a2a2a" stroke-width="1.3"/>
<line x1="878.4" y1="497.3" x2="883.4" y2="497.3" stroke="#2a2a2a" stroke-width="1.3"/>
<text x="37.0" y="501.5" font-size="12.4" text-anchor="end" font-weight="normal" font-style="normal" fill="#1c1c1c" stroke="#1c1c1c" stroke-width="0.35" textLength="19.34" lengthAdjust="spacingAndGlyphs">150</text>
<text x="915.8" y="501.5" font-size="12.4" text-anchor="end" font-weight="normal" font-style="normal" fill="#1c1c1c" stroke="#1c1c1c" stroke-width="0.35" textLength="19.34" lengthAdjust="spacingAndGlyphs">150</text>
<line x1="50.05" y1="520.15" x2="55.05" y2="520.15" stroke="#2a2a2a" stroke-width="1.3"/>
<line x1="878.4" y1="520.15" x2="883.4" y2="520.15" stroke="#2a2a2a" stroke-width="1.3"/>
<text x="37.0" y="524.35" font-size="12.4" text-anchor="end" font-weight="normal" font-style="normal" fill="#1c1c1c" stroke="#1c1c1c" stroke-width="0.35" textLength="19.34" lengthAdjust="spacingAndGlyphs">125</text>
<text x="915.8" y="524.35" font-size="12.4" text-anchor="end" font-weight="normal" font-style="normal" fill="#1c1c1c" stroke="#1c1c1c" stroke-width="0.35" textLength="19.34" lengthAdjust="spacingAndGlyphs">125</text>
<line x1="50.05" y1="543.0" x2="55.05" y2="543.0" stroke="#2a2a2a" stroke-width="1.3"/>
<line x1="878.4" y1="543.0" x2="883.4" y2="543.0" stroke="#2a2a2a" stroke-width="1.3"/>
<text x="37.0" y="547.2" font-size="12.4" text-anchor="end" font-weight="normal" font-style="normal" fill="#1c1c1c" stroke="#1c1c1c" stroke-width="0.35" textLength="19.34" lengthAdjust="spacingAndGlyphs">100</text>
<text x="915.8" y="547.2" font-size="12.4" text-anchor="end" font-weight="normal" font-style="normal" fill="#1c1c1c" stroke="#1c1c1c" stroke-width="0.35" textLength="19.34" lengthAdjust="spacingAndGlyphs">100</text>
<line x1="50.05" y1="565.85" x2="55.05" y2="565.85" stroke="#2a2a2a" stroke-width="1.3"/>
<line x1="878.4" y1="565.85" x2="883.4" y2="565.85" stroke="#2a2a2a" stroke-width="1.3"/>
<text x="37.0" y="570.0500000000001" font-size="12.4" text-anchor="end" font-weight="normal" font-style="normal" fill="#1c1c1c" stroke="#1c1c1c" stroke-width="0.35" textLength="12.9" lengthAdjust="spacingAndGlyphs">75</text>
<text x="915.8" y="570.0500000000001" font-size="12.4" text-anchor="end" font-weight="normal" font-style="normal" fill="#1c1c1c" stroke="#1c1c1c" stroke-width="0.35" textLength="12.9" lengthAdjust="spacingAndGlyphs">75</text>
<line x1="50.05" y1="588.7" x2="55.05" y2="588.7" stroke="#2a2a2a" stroke-width="1.3"/>
<line x1="878.4" y1="588.7" x2="883.4" y2="588.7" stroke="#2a2a2a" stroke-width="1.3"/>
<text x="37.0" y="592.9000000000001" font-size="12.4" text-anchor="end" font-weight="normal" font-style="normal" fill="#1c1c1c" stroke="#1c1c1c" stroke-width="0.35" textLength="12.9" lengthAdjust="spacingAndGlyphs">50</text>
<text x="915.8" y="592.9000000000001" font-size="12.4" text-anchor="end" font-weight="normal" font-style="normal" fill="#1c1c1c" stroke="#1c1c1c" stroke-width="0.35" textLength="12.9" lengthAdjust="spacingAndGlyphs">50</text>
<line x1="50.05" y1="611.55" x2="55.05" y2="611.55" stroke="#2a2a2a" stroke-width="1.3"/>
<line x1="878.4" y1="611.55" x2="883.4" y2="611.55" stroke="#2a2a2a" stroke-width="1.3"/>
<text x="37.0" y="615.75" font-size="12.4" text-anchor="end" font-weight="normal" font-style="normal" fill="#1c1c1c" stroke="#1c1c1c" stroke-width="0.35" textLength="12.9" lengthAdjust="spacingAndGlyphs">25</text>
<text x="915.8" y="615.75" font-size="12.4" text-anchor="end" font-weight="normal" font-style="normal" fill="#1c1c1c" stroke="#1c1c1c" stroke-width="0.35" textLength="12.9" lengthAdjust="spacingAndGlyphs">25</text>
<line x1="50.05" y1="634.4000000000001" x2="55.05" y2="634.4000000000001" stroke="#2a2a2a" stroke-width="1.3"/>
<line x1="878.4" y1="634.4000000000001" x2="883.4" y2="634.4000000000001" stroke="#2a2a2a" stroke-width="1.3"/>
<text x="37.0" y="638.6000000000001" font-size="12.4" text-anchor="end" font-weight="normal" font-style="normal" fill="#1c1c1c" stroke="#1c1c1c" stroke-width="0.35" textLength="6.45" lengthAdjust="spacingAndGlyphs">0</text>
<text x="915.8" y="638.6000000000001" font-size="12.4" text-anchor="end" font-weight="normal" font-style="normal" fill="#1c1c1c" stroke="#1c1c1c" stroke-width="0.35" textLength="6.45" lengthAdjust="spacingAndGlyphs">0</text>
<line x1="50.05" y1="657.25" x2="55.05" y2="657.25" stroke="#2a2a2a" stroke-width="1.3"/>
<line x1="878.4" y1="657.25" x2="883.4" y2="657.25" stroke="#2a2a2a" stroke-width="1.3"/>
<text x="37.0" y="661.45" font-size="12.4" text-anchor="end" font-weight="normal" font-style="normal" fill="#1c1c1c" stroke="#1c1c1c" stroke-width="0.35" textLength="16.76" lengthAdjust="spacingAndGlyphs">-25</text>
<text x="915.8" y="661.45" font-size="12.4" text-anchor="end" font-weight="normal" font-style="normal" fill="#1c1c1c" stroke="#1c1c1c" stroke-width="0.35" textLength="16.76" lengthAdjust="spacingAndGlyphs">-25</text>
<line x1="58.48" y1="685.1" x2="58.48" y2="688.1" stroke="#2a2a2a" stroke-width="1.2"/>
<line x1="67.25999999999999" y1="685.1" x2="67.25999999999999" y2="688.1" stroke="#2a2a2a" stroke-width="1.2"/>
<line x1="76.03999999999999" y1="685.1" x2="76.03999999999999" y2="688.1" stroke="#2a2a2a" stroke-width="1.2"/>
<line x1="84.82" y1="685.1" x2="84.82" y2="688.1" stroke="#2a2a2a" stroke-width="1.2"/>
<line x1="93.6" y1="685.1" x2="93.6" y2="689.9" stroke="#2a2a2a" stroke-width="1.2"/>
<text x="93.6" y="702.1" font-size="12.700000000000001" text-anchor="middle" font-weight="normal" font-style="normal" fill="#1c1c1c" stroke="#1c1c1c" stroke-width="0.35" textLength="26.13" lengthAdjust="spacingAndGlyphs">1930</text>
<line x1="102.38" y1="685.1" x2="102.38" y2="688.1" stroke="#2a2a2a" stroke-width="1.2"/>
<line x1="111.16" y1="685.1" x2="111.16" y2="688.1" stroke="#2a2a2a" stroke-width="1.2"/>
<line x1="119.94" y1="685.1" x2="119.94" y2="688.1" stroke="#2a2a2a" stroke-width="1.2"/>
<line x1="128.72" y1="685.1" x2="128.72" y2="688.1" stroke="#2a2a2a" stroke-width="1.2"/>
<line x1="137.5" y1="685.1" x2="137.5" y2="689.9" stroke="#2a2a2a" stroke-width="1.2"/>
<text x="137.5" y="702.1" font-size="12.700000000000001" text-anchor="middle" font-weight="normal" font-style="normal" fill="#1c1c1c" stroke="#1c1c1c" stroke-width="0.35" textLength="26.13" lengthAdjust="spacingAndGlyphs">1935</text>
<line x1="146.27999999999997" y1="685.1" x2="146.27999999999997" y2="688.1" stroke="#2a2a2a" stroke-width="1.2"/>
<line x1="155.06" y1="685.1" x2="155.06" y2="688.1" stroke="#2a2a2a" stroke-width="1.2"/>
<line x1="163.83999999999997" y1="685.1" x2="163.83999999999997" y2="688.1" stroke="#2a2a2a" stroke-width="1.2"/>
<line x1="172.62" y1="685.1" x2="172.62" y2="688.1" stroke="#2a2a2a" stroke-width="1.2"/>
<line x1="181.39999999999998" y1="685.1" x2="181.39999999999998" y2="689.9" stroke="#2a2a2a" stroke-width="1.2"/>
<text x="181.39999999999998" y="702.1" font-size="12.700000000000001" text-anchor="middle" font-weight="normal" font-style="normal" fill="#1c1c1c" stroke="#1c1c1c" stroke-width="0.35" textLength="26.13" lengthAdjust="spacingAndGlyphs">1940</text>
<line x1="190.18" y1="685.1" x2="190.18" y2="688.1" stroke="#2a2a2a" stroke-width="1.2"/>
<line x1="198.95999999999998" y1="685.1" x2="198.95999999999998" y2="688.1" stroke="#2a2a2a" stroke-width="1.2"/>
<line x1="207.73999999999998" y1="685.1" x2="207.73999999999998" y2="688.1" stroke="#2a2a2a" stroke-width="1.2"/>
<line x1="216.51999999999998" y1="685.1" x2="216.51999999999998" y2="688.1" stroke="#2a2a2a" stroke-width="1.2"/>
<line x1="225.29999999999998" y1="685.1" x2="225.29999999999998" y2="689.9" stroke="#2a2a2a" stroke-width="1.2"/>
<text x="225.29999999999998" y="702.1" font-size="12.700000000000001" text-anchor="middle" font-weight="normal" font-style="normal" fill="#1c1c1c" stroke="#1c1c1c" stroke-width="0.35" textLength="26.13" lengthAdjust="spacingAndGlyphs">1945</text>
<line x1="234.07999999999998" y1="685.1" x2="234.07999999999998" y2="688.1" stroke="#2a2a2a" stroke-width="1.2"/>
<line x1="242.85999999999999" y1="685.1" x2="242.85999999999999" y2="688.1" stroke="#2a2a2a" stroke-width="1.2"/>
<line x1="251.64" y1="685.1" x2="251.64" y2="688.1" stroke="#2a2a2a" stroke-width="1.2"/>
<line x1="260.41999999999996" y1="685.1" x2="260.41999999999996" y2="688.1" stroke="#2a2a2a" stroke-width="1.2"/>
<line x1="269.2" y1="685.1" x2="269.2" y2="689.9" stroke="#2a2a2a" stroke-width="1.2"/>
<text x="269.2" y="702.1" font-size="12.700000000000001" text-anchor="middle" font-weight="normal" font-style="normal" fill="#1c1c1c" stroke="#1c1c1c" stroke-width="0.35" textLength="26.13" lengthAdjust="spacingAndGlyphs">1950</text>
<line x1="277.98" y1="685.1" x2="277.98" y2="688.1" stroke="#2a2a2a" stroke-width="1.2"/>
<line x1="286.76" y1="685.1" x2="286.76" y2="688.1" stroke="#2a2a2a" stroke-width="1.2"/>
<line x1="295.53999999999996" y1="685.1" x2="295.53999999999996" y2="688.1" stroke="#2a2a2a" stroke-width="1.2"/>
<line x1="304.31999999999994" y1="685.1" x2="304.31999999999994" y2="688.1" stroke="#2a2a2a" stroke-width="1.2"/>
<line x1="313.09999999999997" y1="685.1" x2="313.09999999999997" y2="689.9" stroke="#2a2a2a" stroke-width="1.2"/>
<text x="313.09999999999997" y="702.1" font-size="12.700000000000001" text-anchor="middle" font-weight="normal" font-style="normal" fill="#1c1c1c" stroke="#1c1c1c" stroke-width="0.35" textLength="26.13" lengthAdjust="spacingAndGlyphs">1955</text>
<line x1="321.88" y1="685.1" x2="321.88" y2="688.1" stroke="#2a2a2a" stroke-width="1.2"/>
<line x1="330.65999999999997" y1="685.1" x2="330.65999999999997" y2="688.1" stroke="#2a2a2a" stroke-width="1.2"/>
<line x1="339.43999999999994" y1="685.1" x2="339.43999999999994" y2="688.1" stroke="#2a2a2a" stroke-width="1.2"/>
<line x1="348.21999999999997" y1="685.1" x2="348.21999999999997" y2="688.1" stroke="#2a2a2a" stroke-width="1.2"/>
<line x1="357.0" y1="685.1" x2="357.0" y2="689.9" stroke="#2a2a2a" stroke-width="1.2"/>
<text x="357.0" y="702.1" font-size="12.700000000000001" text-anchor="middle" font-weight="normal" font-style="normal" fill="#1c1c1c" stroke="#1c1c1c" stroke-width="0.35" textLength="26.13" lengthAdjust="spacingAndGlyphs">1960</text>
<line x1="365.78" y1="685.1" x2="365.78" y2="688.1" stroke="#2a2a2a" stroke-width="1.2"/>
<line x1="374.55999999999995" y1="685.1" x2="374.55999999999995" y2="688.1" stroke="#2a2a2a" stroke-width="1.2"/>
<line x1="383.3399999999999" y1="685.1" x2="383.3399999999999" y2="688.1" stroke="#2a2a2a" stroke-width="1.2"/>
<line x1="392.12" y1="685.1" x2="392.12" y2="688.1" stroke="#2a2a2a" stroke-width="1.2"/>
<line x1="400.9" y1="685.1" x2="400.9" y2="689.9" stroke="#2a2a2a" stroke-width="1.2"/>
<text x="400.9" y="702.1" font-size="12.700000000000001" text-anchor="middle" font-weight="normal" font-style="normal" fill="#1c1c1c" stroke="#1c1c1c" stroke-width="0.35" textLength="26.13" lengthAdjust="spacingAndGlyphs">1965</text>
<line x1="409.67999999999995" y1="685.1" x2="409.67999999999995" y2="688.1" stroke="#2a2a2a" stroke-width="1.2"/>
<line x1="418.4599999999999" y1="685.1" x2="418.4599999999999" y2="688.1" stroke="#2a2a2a" stroke-width="1.2"/>
<line x1="427.24" y1="685.1" x2="427.24" y2="688.1" stroke="#2a2a2a" stroke-width="1.2"/>
<line x1="436.02" y1="685.1" x2="436.02" y2="688.1" stroke="#2a2a2a" stroke-width="1.2"/>
<line x1="444.79999999999995" y1="685.1" x2="444.79999999999995" y2="689.9" stroke="#2a2a2a" stroke-width="1.2"/>
<text x="444.79999999999995" y="702.1" font-size="12.700000000000001" text-anchor="middle" font-weight="normal" font-style="normal" fill="#1c1c1c" stroke="#1c1c1c" stroke-width="0.35" textLength="26.13" lengthAdjust="spacingAndGlyphs">1970</text>
<line x1="453.5799999999999" y1="685.1" x2="453.5799999999999" y2="688.1" stroke="#2a2a2a" stroke-width="1.2"/>
<line x1="462.36" y1="685.1" x2="462.36" y2="688.1" stroke="#2a2a2a" stroke-width="1.2"/>
<line x1="471.14" y1="685.1" x2="471.14" y2="688.1" stroke="#2a2a2a" stroke-width="1.2"/>
<line x1="479.91999999999996" y1="685.1" x2="479.91999999999996" y2="688.1" stroke="#2a2a2a" stroke-width="1.2"/>
<line x1="488.69999999999993" y1="685.1" x2="488.69999999999993" y2="689.9" stroke="#2a2a2a" stroke-width="1.2"/>
<text x="488.69999999999993" y="702.1" font-size="12.700000000000001" text-anchor="middle" font-weight="normal" font-style="normal" fill="#1c1c1c" stroke="#1c1c1c" stroke-width="0.35" textLength="26.13" lengthAdjust="spacingAndGlyphs">1975</text>
<line x1="497.48" y1="685.1" x2="497.48" y2="688.1" stroke="#2a2a2a" stroke-width="1.2"/>
<line x1="506.26" y1="685.1" x2="506.26" y2="688.1" stroke="#2a2a2a" stroke-width="1.2"/>
<line x1="515.04" y1="685.1" x2="515.04" y2="688.1" stroke="#2a2a2a" stroke-width="1.2"/>
<line x1="523.8199999999999" y1="685.1" x2="523.8199999999999" y2="688.1" stroke="#2a2a2a" stroke-width="1.2"/>
<line x1="532.5999999999999" y1="685.1" x2="532.5999999999999" y2="689.9" stroke="#2a2a2a" stroke-width="1.2"/>
<text x="532.5999999999999" y="702.1" font-size="12.700000000000001" text-anchor="middle" font-weight="normal" font-style="normal" fill="#1c1c1c" stroke="#1c1c1c" stroke-width="0.35" textLength="26.13" lengthAdjust="spacingAndGlyphs">1980</text>
<line x1="541.38" y1="685.1" x2="541.38" y2="688.1" stroke="#2a2a2a" stroke-width="1.2"/>
<line x1="550.16" y1="685.1" x2="550.16" y2="688.1" stroke="#2a2a2a" stroke-width="1.2"/>
<line x1="558.9399999999999" y1="685.1" x2="558.9399999999999" y2="688.1" stroke="#2a2a2a" stroke-width="1.2"/>
<line x1="567.7199999999999" y1="685.1" x2="567.7199999999999" y2="688.1" stroke="#2a2a2a" stroke-width="1.2"/>
<line x1="576.5" y1="685.1" x2="576.5" y2="689.9" stroke="#2a2a2a" stroke-width="1.2"/>
<text x="576.5" y="702.1" font-size="12.700000000000001" text-anchor="middle" font-weight="normal" font-style="normal" fill="#1c1c1c" stroke="#1c1c1c" stroke-width="0.35" textLength="26.13" lengthAdjust="spacingAndGlyphs">1985</text>
<line x1="585.28" y1="685.1" x2="585.28" y2="688.1" stroke="#2a2a2a" stroke-width="1.2"/>
<line x1="594.06" y1="685.1" x2="594.06" y2="688.1" stroke="#2a2a2a" stroke-width="1.2"/>
<line x1="602.8399999999999" y1="685.1" x2="602.8399999999999" y2="688.1" stroke="#2a2a2a" stroke-width="1.2"/>
<line x1="611.62" y1="685.1" x2="611.62" y2="688.1" stroke="#2a2a2a" stroke-width="1.2"/>
<line x1="620.4" y1="685.1" x2="620.4" y2="689.9" stroke="#2a2a2a" stroke-width="1.2"/>
<text x="620.4" y="702.1" font-size="12.700000000000001" text-anchor="middle" font-weight="normal" font-style="normal" fill="#1c1c1c" stroke="#1c1c1c" stroke-width="0.35" textLength="26.13" lengthAdjust="spacingAndGlyphs">1990</text>
<line x1="629.18" y1="685.1" x2="629.18" y2="688.1" stroke="#2a2a2a" stroke-width="1.2"/>
<line x1="637.96" y1="685.1" x2="637.96" y2="688.1" stroke="#2a2a2a" stroke-width="1.2"/>
<line x1="646.74" y1="685.1" x2="646.74" y2="688.1" stroke="#2a2a2a" stroke-width="1.2"/>
<line x1="655.52" y1="685.1" x2="655.52" y2="688.1" stroke="#2a2a2a" stroke-width="1.2"/>
<line x1="664.3" y1="685.1" x2="664.3" y2="689.9" stroke="#2a2a2a" stroke-width="1.2"/>
<text x="664.3" y="702.1" font-size="12.700000000000001" text-anchor="middle" font-weight="normal" font-style="normal" fill="#1c1c1c" stroke="#1c1c1c" stroke-width="0.35" textLength="26.13" lengthAdjust="spacingAndGlyphs">1995</text>
<line x1="673.0799999999999" y1="685.1" x2="673.0799999999999" y2="688.1" stroke="#2a2a2a" stroke-width="1.2"/>
<line x1="681.86" y1="685.1" x2="681.86" y2="688.1" stroke="#2a2a2a" stroke-width="1.2"/>
<line x1="690.64" y1="685.1" x2="690.64" y2="688.1" stroke="#2a2a2a" stroke-width="1.2"/>
<line x1="699.42" y1="685.1" x2="699.42" y2="688.1" stroke="#2a2a2a" stroke-width="1.2"/>
<line x1="708.1999999999999" y1="685.1" x2="708.1999999999999" y2="689.9" stroke="#2a2a2a" stroke-width="1.2"/>
<text x="708.1999999999999" y="702.1" font-size="12.700000000000001" text-anchor="middle" font-weight="normal" font-style="normal" fill="#1c1c1c" stroke="#1c1c1c" stroke-width="0.35" textLength="26.13" lengthAdjust="spacingAndGlyphs">2000</text>
<line x1="716.98" y1="685.1" x2="716.98" y2="688.1" stroke="#2a2a2a" stroke-width="1.2"/>
<line x1="725.76" y1="685.1" x2="725.76" y2="688.1" stroke="#2a2a2a" stroke-width="1.2"/>
<line x1="734.54" y1="685.1" x2="734.54" y2="688.1" stroke="#2a2a2a" stroke-width="1.2"/>
<line x1="743.3199999999999" y1="685.1" x2="743.3199999999999" y2="688.1" stroke="#2a2a2a" stroke-width="1.2"/>
<line x1="752.1" y1="685.1" x2="752.1" y2="689.9" stroke="#2a2a2a" stroke-width="1.2"/>
<text x="752.1" y="702.1" font-size="12.700000000000001" text-anchor="middle" font-weight="normal" font-style="normal" fill="#1c1c1c" stroke="#1c1c1c" stroke-width="0.35" textLength="26.13" lengthAdjust="spacingAndGlyphs">2005</text>
<line x1="760.88" y1="685.1" x2="760.88" y2="688.1" stroke="#2a2a2a" stroke-width="1.2"/>
<line x1="769.66" y1="685.1" x2="769.66" y2="688.1" stroke="#2a2a2a" stroke-width="1.2"/>
<line x1="778.4399999999999" y1="685.1" x2="778.4399999999999" y2="688.1" stroke="#2a2a2a" stroke-width="1.2"/>
<line x1="787.22" y1="685.1" x2="787.22" y2="688.1" stroke="#2a2a2a" stroke-width="1.2"/>
<line x1="796.0" y1="685.1" x2="796.0" y2="689.9" stroke="#2a2a2a" stroke-width="1.2"/>
<text x="796.0" y="702.1" font-size="12.700000000000001" text-anchor="middle" font-weight="normal" font-style="normal" fill="#1c1c1c" stroke="#1c1c1c" stroke-width="0.35" textLength="26.13" lengthAdjust="spacingAndGlyphs">2010</text>
<line x1="804.78" y1="685.1" x2="804.78" y2="688.1" stroke="#2a2a2a" stroke-width="1.2"/>
<line x1="813.56" y1="685.1" x2="813.56" y2="688.1" stroke="#2a2a2a" stroke-width="1.2"/>
<line x1="822.3399999999999" y1="685.1" x2="822.3399999999999" y2="688.1" stroke="#2a2a2a" stroke-width="1.2"/>
<line x1="831.12" y1="685.1" x2="831.12" y2="688.1" stroke="#2a2a2a" stroke-width="1.2"/>
<line x1="839.9" y1="685.1" x2="839.9" y2="689.9" stroke="#2a2a2a" stroke-width="1.2"/>
<text x="839.9" y="702.1" font-size="12.700000000000001" text-anchor="middle" font-weight="normal" font-style="normal" fill="#1c1c1c" stroke="#1c1c1c" stroke-width="0.35" textLength="26.13" lengthAdjust="spacingAndGlyphs">2015</text>
<line x1="848.68" y1="685.1" x2="848.68" y2="688.1" stroke="#2a2a2a" stroke-width="1.2"/>
<line x1="857.4599999999999" y1="685.1" x2="857.4599999999999" y2="688.1" stroke="#2a2a2a" stroke-width="1.2"/>
<line x1="866.24" y1="685.1" x2="866.24" y2="688.1" stroke="#2a2a2a" stroke-width="1.2"/>
<line x1="875.02" y1="685.1" x2="875.02" y2="688.1" stroke="#2a2a2a" stroke-width="1.2"/>
<text x="54.8" y="24.6" font-size="20.6" text-anchor="start" font-weight="normal" font-style="normal" fill="#1c1c1c" stroke="#1c1c1c" stroke-width="0.3" textLength="123" lengthAdjust="spacingAndGlyphs">S&amp;P 500 Index</text>
<text x="641.6" y="15.9" font-size="12.0" text-anchor="start" font-weight="normal" font-style="italic" fill="#1c1c1c" stroke="#1c1c1c" stroke-width="0.2" textLength="71.6" lengthAdjust="spacingAndGlyphs">Monthly Data</text>
<text x="716.6" y="15.9" font-size="12.0" text-anchor="start" font-weight="normal" font-style="italic" fill="#1c1c1c" stroke="#1c1c1c" stroke-width="0.2" textLength="57.9" lengthAdjust="spacingAndGlyphs">1925-12-31</text>
<text x="777.8" y="15.9" font-size="12.0" text-anchor="start" font-weight="normal" font-style="italic" fill="#1c1c1c" stroke="#1c1c1c" stroke-width="0.2" textLength="9.3" lengthAdjust="spacingAndGlyphs">to</text>
<text x="790.8" y="15.9" font-size="12.0" text-anchor="start" font-weight="normal" font-style="italic" fill="#1c1c1c" stroke="#1c1c1c" stroke-width="0.2" textLength="58.6" lengthAdjust="spacingAndGlyphs">2018-12-31</text>
<text x="853.1" y="15.9" font-size="12.0" text-anchor="start" font-weight="normal" font-style="italic" fill="#1c1c1c" stroke="#1c1c1c" stroke-width="0.2" textLength="56.4" lengthAdjust="spacingAndGlyphs">(Log Scale)</text>
<line x1="345.4" y1="44.7" x2="364" y2="44.7" stroke="#3030ff" stroke-width="1.5"/>
<text x="369.3" y="48.0" font-size="12.2" text-anchor="start" font-weight="normal" font-style="normal" fill="#3030ff" stroke="#3030ff" stroke-width="0.25" textLength="77.2" lengthAdjust="spacingAndGlyphs">S&amp;P 500 Index</text>
<text x="752.1" y="271.4" font-size="12.3" text-anchor="start" font-weight="normal" font-style="normal" fill="#3030ff" stroke="#3030ff" stroke-width="0.25" textLength="117.8" lengthAdjust="spacingAndGlyphs">2018-12-31 = 2506.85</text>
<text x="150" y="270.8" font-size="10.2" text-anchor="start" font-weight="bold" font-style="normal" fill="#1c1c1c" stroke="#1c1c1c" stroke-width="0.15" textLength="33.6" lengthAdjust="spacingAndGlyphs">Source:</text>
<text x="186.9" y="270.8" font-size="10.2" text-anchor="start" font-weight="normal" font-style="italic" fill="#1c1c1c" stroke="#1c1c1c" stroke-width="0.25" textLength="94" lengthAdjust="spacingAndGlyphs">S&amp;P Dow Jones Indices</text>
<line x1="70" y1="287.7" x2="89.2" y2="287.7" stroke="#484848" stroke-width="1.8"/>
<text x="94.1" y="291.4" font-size="12.3" text-anchor="start" font-weight="normal" font-style="normal" fill="#1c1c1c" stroke="#1c1c1c" stroke-width="0.25" textLength="234.4" lengthAdjust="spacingAndGlyphs">Stock Market Capitalization as a Percentage</text>
<text x="334.2" y="291.4" font-size="12.3" text-anchor="start" font-weight="normal" font-style="normal" fill="#1c1c1c" stroke="#1c1c1c" stroke-width="0.25" textLength="189.5" lengthAdjust="spacingAndGlyphs">of Nominal Gross Domestic Income</text>
<line x1="70.2" y1="303.2" x2="89.2" y2="303.2" stroke="#ff4040" stroke-width="1.6" stroke-dasharray="5 2.1"/>
<text x="94.1" y="305.9" font-size="12.3" text-anchor="start" font-weight="normal" font-style="normal" fill="#ff3038" stroke="#ff3038" stroke-width="0.25" textLength="149.6" lengthAdjust="spacingAndGlyphs">Linear Regression Trendline</text>
<text x="869.7" y="486.6" font-size="12.3" text-anchor="end" font-weight="normal" font-style="normal" fill="#1c1c1c" stroke="#1c1c1c" stroke-width="0.25" textLength="121" lengthAdjust="spacingAndGlyphs">2018-12-31 = 129.54%</text>
<text x="58.05" y="486.9" font-size="10.2" text-anchor="start" font-weight="bold" font-style="normal" fill="#1c1c1c" stroke="#1c1c1c" stroke-width="0.15" textLength="33.7" lengthAdjust="spacingAndGlyphs">Source:</text>
<text x="95.4" y="486.9" font-size="10.2" text-anchor="start" font-weight="normal" font-style="italic" fill="#1c1c1c" stroke="#1c1c1c" stroke-width="0.25" textLength="99.6" lengthAdjust="spacingAndGlyphs">Ned Davis Research, Inc.</text>
<line x1="179" y1="503.1" x2="196.8" y2="503.1" stroke="#ff2a18" stroke-width="1.5"/>
<text x="202.8" y="507.0" font-size="12.3" text-anchor="start" font-weight="normal" font-style="normal" fill="#ff3038" stroke="#ff3038" stroke-width="0.25" textLength="244.4" lengthAdjust="spacingAndGlyphs">% Stock Market Capitalization as a % of GDI is</text>
<text x="451.1" y="507.0" font-size="12.3" text-anchor="start" font-weight="normal" font-style="normal" fill="#ff3038" stroke="#ff3038" stroke-width="0.25" textLength="162.2" lengthAdjust="spacingAndGlyphs">Over/Under Trendline Growth</text>
<text x="416.8" y="534.4" font-size="12.5" text-anchor="middle" font-weight="normal" font-style="normal" fill="#58cf38" stroke="#58cf38" stroke-width="0.25" textLength="67" lengthAdjust="spacingAndGlyphs">Top Quintile</text>
<text x="416.0" y="551.2" font-size="12.5" text-anchor="middle" font-weight="normal" font-style="normal" fill="#58cf38" stroke="#58cf38" stroke-width="0.25" textLength="62.2" lengthAdjust="spacingAndGlyphs">Overvalued</text>
<text x="383.5" y="680" font-size="12.3" text-anchor="middle" font-weight="normal" font-style="normal" fill="#58cf38" stroke="#58cf38" stroke-width="0.25" textLength="167" lengthAdjust="spacingAndGlyphs">Bottom Quintile - Undervalued</text>
<text x="869.7" y="683.6" font-size="12.3" text-anchor="end" font-weight="normal" font-style="normal" fill="#ff5030" stroke="#ff5030" stroke-width="0.25" textLength="115" lengthAdjust="spacingAndGlyphs">2018-12-31 = 25.90%</text>
<text x="58.05" y="683.2" font-size="10.2" text-anchor="start" font-weight="bold" font-style="normal" fill="#1c1c1c" stroke="#1c1c1c" stroke-width="0.15" textLength="33.7" lengthAdjust="spacingAndGlyphs">Source:</text>
<text x="95.4" y="683.2" font-size="10.2" text-anchor="start" font-weight="normal" font-style="italic" fill="#1c1c1c" stroke="#1c1c1c" stroke-width="0.25" textLength="99.6" lengthAdjust="spacingAndGlyphs">Ned Davis Research, Inc.</text>
<rect x="66.8" y="35.4" width="215.59999999999997" height="162.6" fill="#fff" stroke="none" stroke-width="0"/>
<line x1="66.1" y1="35.4" x2="283.09999999999997" y2="35.4" stroke="#2a2a2a" stroke-width="1.4"/>
<line x1="66.1" y1="65.9" x2="283.09999999999997" y2="65.9" stroke="#2a2a2a" stroke-width="1.4"/>
<line x1="66.1" y1="95.9" x2="283.09999999999997" y2="95.9" stroke="#2a2a2a" stroke-width="1.4"/>
<line x1="66.1" y1="113.0" x2="283.09999999999997" y2="113.0" stroke="#2a2a2a" stroke-width="1.4"/>
<line x1="66.1" y1="130.2" x2="283.09999999999997" y2="130.2" stroke="#2a2a2a" stroke-width="1.4"/>
<line x1="66.1" y1="147.6" x2="283.09999999999997" y2="147.6" stroke="#2a2a2a" stroke-width="1.4"/>
<line x1="66.1" y1="164.8" x2="283.09999999999997" y2="164.8" stroke="#2a2a2a" stroke-width="1.4"/>
<line x1="66.1" y1="181.4" x2="283.09999999999997" y2="181.4" stroke="#2a2a2a" stroke-width="1.4"/>
<line x1="66.1" y1="198.0" x2="283.09999999999997" y2="198.0" stroke="#2a2a2a" stroke-width="1.4"/>
<line x1="66.8" y1="35.4" x2="66.8" y2="198" stroke="#2a2a2a" stroke-width="1.4"/>
<line x1="282.4" y1="35.4" x2="282.4" y2="198" stroke="#2a2a2a" stroke-width="1.4"/>
<line x1="131.8" y1="65.9" x2="131.8" y2="198" stroke="#2a2a2a" stroke-width="1.4"/>
<line x1="183.8" y1="65.9" x2="183.8" y2="198" stroke="#2a2a2a" stroke-width="1.4"/>
<line x1="233.2" y1="65.9" x2="233.2" y2="198" stroke="#2a2a2a" stroke-width="1.4"/>
<text x="174" y="48.3" font-size="10.3" text-anchor="middle" font-weight="normal" font-style="normal" fill="#1c1c1c" stroke="#1c1c1c" stroke-width="0.35" textLength="130" lengthAdjust="spacingAndGlyphs">Average % Change in S&amp;P 500</text>
<text x="174" y="60.7" font-size="10.3" text-anchor="middle" font-weight="normal" font-style="normal" fill="#1c1c1c" stroke="#1c1c1c" stroke-width="0.35" textLength="113" lengthAdjust="spacingAndGlyphs">Market Cap as % of GDI is:</text>
<text x="74" y="84.0" font-size="10.3" text-anchor="start" font-weight="normal" font-style="normal" fill="#1c1c1c" stroke="#1c1c1c" stroke-width="0.35" textLength="48" lengthAdjust="spacingAndGlyphs">Years Later</text>
<text x="157.5" y="77.3" font-size="10.3" text-anchor="middle" font-weight="normal" font-style="normal" fill="#1c1c1c" stroke="#1c1c1c" stroke-width="0.35" textLength="16" lengthAdjust="spacingAndGlyphs">Top</text>
<text x="157.5" y="89.8" font-size="10.3" text-anchor="middle" font-weight="normal" font-style="normal" fill="#1c1c1c" stroke="#1c1c1c" stroke-width="0.35" textLength="35" lengthAdjust="spacingAndGlyphs">Quintile</text>
<text x="208" y="77.3" font-size="10.3" text-anchor="middle" font-weight="normal" font-style="normal" fill="#1c1c1c" stroke="#1c1c1c" stroke-width="0.35" textLength="33" lengthAdjust="spacingAndGlyphs">Bottom</text>
<text x="208" y="89.8" font-size="10.3" text-anchor="middle" font-weight="normal" font-style="normal" fill="#1c1c1c" stroke="#1c1c1c" stroke-width="0.35" textLength="35" lengthAdjust="spacingAndGlyphs">Quintile</text>
<text x="257" y="84.0" font-size="10.3" text-anchor="middle" font-weight="normal" font-style="normal" fill="#1c1c1c" stroke="#1c1c1c" stroke-width="0.35" textLength="31" lengthAdjust="spacingAndGlyphs">Spread</text>
<text x="74.3" y="108.05" font-size="10.3" text-anchor="start" font-weight="normal" font-style="normal" fill="#1c1c1c" stroke="#1c1c1c" stroke-width="0.35" textLength="26.29" lengthAdjust="spacingAndGlyphs">1 Year</text>
<text x="175.3" y="108.05" font-size="10.3" text-anchor="end" font-weight="normal" font-style="normal" fill="#1c1c1c" stroke="#1c1c1c" stroke-width="0.35" textLength="20.07" lengthAdjust="spacingAndGlyphs">-2.94</text>
<text x="225.3" y="108.05" font-size="10.3" text-anchor="end" font-weight="normal" font-style="normal" fill="#1c1c1c" stroke="#1c1c1c" stroke-width="0.35" textLength="22.04" lengthAdjust="spacingAndGlyphs">16.84</text>
<text x="274.3" y="108.05" font-size="10.3" text-anchor="end" font-weight="normal" font-style="normal" fill="#1c1c1c" stroke="#1c1c1c" stroke-width="0.35" textLength="22.04" lengthAdjust="spacingAndGlyphs">19.79</text>
<text x="74.3" y="125.19999999999999" font-size="10.3" text-anchor="start" font-weight="normal" font-style="normal" fill="#1c1c1c" stroke="#1c1c1c" stroke-width="0.35" textLength="30.93" lengthAdjust="spacingAndGlyphs">3 Years</text>
<text x="175.3" y="125.19999999999999" font-size="10.3" text-anchor="end" font-weight="normal" font-style="normal" fill="#1c1c1c" stroke="#1c1c1c" stroke-width="0.35" textLength="20.07" lengthAdjust="spacingAndGlyphs">-8.78</text>
<text x="225.3" y="125.19999999999999" font-size="10.3" text-anchor="end" font-weight="normal" font-style="normal" fill="#1c1c1c" stroke="#1c1c1c" stroke-width="0.35" textLength="22.04" lengthAdjust="spacingAndGlyphs">44.06</text>
<text x="274.3" y="125.19999999999999" font-size="10.3" text-anchor="end" font-weight="normal" font-style="normal" fill="#1c1c1c" stroke="#1c1c1c" stroke-width="0.35" textLength="22.04" lengthAdjust="spacingAndGlyphs">52.84</text>
<text x="74.3" y="142.49999999999997" font-size="10.3" text-anchor="start" font-weight="normal" font-style="normal" fill="#1c1c1c" stroke="#1c1c1c" stroke-width="0.35" textLength="30.93" lengthAdjust="spacingAndGlyphs">5 Years</text>
<text x="175.3" y="142.49999999999997" font-size="10.3" text-anchor="end" font-weight="normal" font-style="normal" fill="#1c1c1c" stroke="#1c1c1c" stroke-width="0.35" textLength="24.97" lengthAdjust="spacingAndGlyphs">-17.01</text>
<text x="225.3" y="142.49999999999997" font-size="10.3" text-anchor="end" font-weight="normal" font-style="normal" fill="#1c1c1c" stroke="#1c1c1c" stroke-width="0.35" textLength="22.04" lengthAdjust="spacingAndGlyphs">76.38</text>
<text x="274.3" y="142.49999999999997" font-size="10.3" text-anchor="end" font-weight="normal" font-style="normal" fill="#1c1c1c" stroke="#1c1c1c" stroke-width="0.35" textLength="22.04" lengthAdjust="spacingAndGlyphs">93.39</text>
<text x="74.3" y="159.79999999999998" font-size="10.3" text-anchor="start" font-weight="normal" font-style="normal" fill="#1c1c1c" stroke="#1c1c1c" stroke-width="0.35" textLength="30.93" lengthAdjust="spacingAndGlyphs">7 Years</text>
<text x="175.3" y="159.79999999999998" font-size="10.3" text-anchor="end" font-weight="normal" font-style="normal" fill="#1c1c1c" stroke="#1c1c1c" stroke-width="0.35" textLength="20.07" lengthAdjust="spacingAndGlyphs">-7.64</text>
<text x="225.3" y="159.79999999999998" font-size="10.3" text-anchor="end" font-weight="normal" font-style="normal" fill="#1c1c1c" stroke="#1c1c1c" stroke-width="0.35" textLength="26.94" lengthAdjust="spacingAndGlyphs">121.20</text>
<text x="274.3" y="159.79999999999998" font-size="10.3" text-anchor="end" font-weight="normal" font-style="normal" fill="#1c1c1c" stroke="#1c1c1c" stroke-width="0.35" textLength="26.94" lengthAdjust="spacingAndGlyphs">128.84</text>
<text x="74.3" y="176.70000000000002" font-size="10.3" text-anchor="start" font-weight="normal" font-style="normal" fill="#1c1c1c" stroke="#1c1c1c" stroke-width="0.35" textLength="30.93" lengthAdjust="spacingAndGlyphs">9 Years</text>
<text x="175.3" y="176.70000000000002" font-size="10.3" text-anchor="end" font-weight="normal" font-style="normal" fill="#1c1c1c" stroke="#1c1c1c" stroke-width="0.35" textLength="20.07" lengthAdjust="spacingAndGlyphs">-1.49</text>
<text x="225.3" y="176.70000000000002" font-size="10.3" text-anchor="end" font-weight="normal" font-style="normal" fill="#1c1c1c" stroke="#1c1c1c" stroke-width="0.35" textLength="26.94" lengthAdjust="spacingAndGlyphs">176.08</text>
<text x="274.3" y="176.70000000000002" font-size="10.3" text-anchor="end" font-weight="normal" font-style="normal" fill="#1c1c1c" stroke="#1c1c1c" stroke-width="0.35" textLength="26.94" lengthAdjust="spacingAndGlyphs">177.57</text>
<text x="74.3" y="193.29999999999998" font-size="10.3" text-anchor="start" font-weight="normal" font-style="normal" fill="#1c1c1c" stroke="#1c1c1c" stroke-width="0.35" textLength="35.4" lengthAdjust="spacingAndGlyphs">11 Years</text>
<text x="175.3" y="193.29999999999998" font-size="10.3" text-anchor="end" font-weight="normal" font-style="normal" fill="#1c1c1c" stroke="#1c1c1c" stroke-width="0.35" textLength="17.14" lengthAdjust="spacingAndGlyphs">3.68</text>
<text x="225.3" y="193.29999999999998" font-size="10.3" text-anchor="end" font-weight="normal" font-style="normal" fill="#1c1c1c" stroke="#1c1c1c" stroke-width="0.35" textLength="26.94" lengthAdjust="spacingAndGlyphs">239.80</text>
<text x="274.3" y="193.29999999999998" font-size="10.3" text-anchor="end" font-weight="normal" font-style="normal" fill="#1c1c1c" stroke="#1c1c1c" stroke-width="0.35" textLength="26.94" lengthAdjust="spacingAndGlyphs">236.12</text>
<rect x="128.8" y="63.2" width="55.5" height="135.8" fill="#ffff00" stroke="none" stroke-width="0" fill-opacity="0.2"/>
<polygon fill="#ff0000" fill-opacity="0.5" points="231.2,49.0 234.7,57.1 195.9,72.5 199.5,81.7 167.9,79.1 189,56.1 191.8,63.9"/>
<text x="18.6" y="718.1" font-size="10.8" text-anchor="start" font-weight="bold" font-style="normal" fill="#0000ff" stroke="#0000ff" stroke-width="0.2" textLength="30.2" lengthAdjust="spacingAndGlyphs">S702A</text>
<line x1="18.4" y1="720.1" x2="48.0" y2="720.1" stroke="#3030ff" stroke-width="1.3"/>
<text x="398.2" y="732.3" font-size="9.5" text-anchor="start" font-weight="normal" font-style="normal" fill="#1c1c1c" stroke="#1c1c1c" stroke-width="0.18" textLength="183.2" lengthAdjust="spacingAndGlyphs">© Copyright 2019 Ned Davis Research, Inc.</text>
<text x="584.7" y="732.3" font-size="9.5" text-anchor="start" font-weight="normal" font-style="normal" fill="#1c1c1c" stroke="#1c1c1c" stroke-width="0.18" textLength="244.4" lengthAdjust="spacingAndGlyphs">Further distribution prohibited without prior permission.</text>
<text x="832.7" y="732.3" font-size="9.5" text-anchor="start" font-weight="normal" font-style="normal" fill="#1c1c1c" stroke="#1c1c1c" stroke-width="0.18" textLength="83.1" lengthAdjust="spacingAndGlyphs">All Rights Reserved.</text>
<text x="398.2" y="744.7" font-size="9.5" text-anchor="start" font-weight="normal" font-style="normal" fill="#1c1c1c" stroke="#1c1c1c" stroke-width="0.18" textLength="94.3" lengthAdjust="spacingAndGlyphs">See NDR Disclaimer at</text>
<text x="496.6" y="744.7" font-size="9.5" text-anchor="start" font-weight="normal" font-style="normal" fill="#1414f0" stroke="#1414f0" stroke-width="0.18" textLength="129.1" lengthAdjust="spacingAndGlyphs">www.ndr.com/copyright.html</text>
<text x="634.2" y="744.7" font-size="9.5" text-anchor="start" font-weight="normal" font-style="normal" fill="#1c1c1c" stroke="#1c1c1c" stroke-width="0.18" textLength="151.7" lengthAdjust="spacingAndGlyphs">For data vendor disclaimers refer to</text>
<text x="790.3" y="744.7" font-size="9.5" text-anchor="start" font-weight="normal" font-style="normal" fill="#1414f0" stroke="#1414f0" stroke-width="0.18" textLength="116.7" lengthAdjust="spacingAndGlyphs">www.ndr.com/vendorinfo/</text>
<rect x="939.8" y="551.7" width="78.6" height="57.4" fill="#000" stroke="#ff0000" stroke-width="5.2"/>
<polygon points="879.6,608 898.4,583.3 902.2,590.6 941.8,571.7 945.4,579.4 905.9,598.3 911.6,607.8" fill="#ff0000"/>
<text x="950.5" y="574.5" font-size="18" text-anchor="start" font-weight="bold" font-style="normal" fill="#ff0000" stroke="#ff0000" stroke-width="0.35" textLength="57" lengthAdjust="spacingAndGlyphs">We are</text>
<text x="950.5" y="598.3" font-size="18" text-anchor="start" font-weight="bold" font-style="normal" fill="#ff0000" stroke="#ff0000" stroke-width="0.35" textLength="43" lengthAdjust="spacingAndGlyphs">here:</text></svg>
</body></html>
